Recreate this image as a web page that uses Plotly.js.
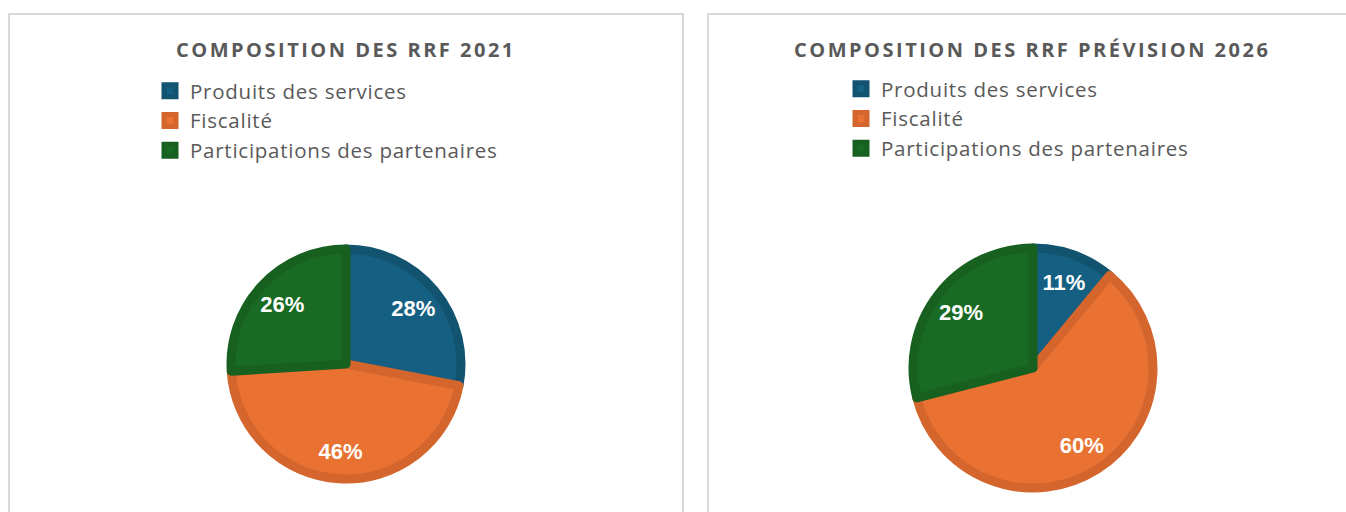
<!DOCTYPE html>
<html>
<head>
<meta charset="utf-8">
<script src="https://cdn.plot.ly/plotly-3.0.1.min.js"></script>
<style>
html,body{margin:0;padding:0;background:#fff;}
#wrap{position:relative;width:1346px;height:512px;overflow:hidden;}
#left{position:absolute;left:0;top:0;width:696px;height:512px;}
#right{position:absolute;left:696px;top:0;width:650px;height:512px;}
.annotation-text{letter-spacing:2.5px;}
.legendtext{letter-spacing:0.75px;}
</style>
</head>
<body>
<div id="wrap"><div id="left"></div><div id="right"></div></div>
<script>
const categories = ["Produits des services", "Fiscalité", "Participations des partenaires"];
const values2021 = [28, 46, 26];
const values2026 = [11, 60, 29];
const titles = ["COMPOSITION DES RRF 2021", "COMPOSITION DES RRF PRÉVISION 2026"];
const fillColors = ["#156082", "#E97132", "#196B24"];
const edgeColors = ["#12536F", "#D4652C", "#17601F"];

const H = 512;
const legendFont = {family: "Open Sans, sans-serif", size: 20.5, color: "#595959"};
const titleFont = {family: "Open Sans, Liberation Sans, sans-serif", size: 20, color: "#595959", weight: "bold"};

function makeChart(id, W, vals, title, cx, cy, r, titleX, legendTextX, legendTop, box) {
  const domain = {x: [(cx - r) / W, (cx + r) / W], y: [(H - cy - r) / H, (H - cy + r) / H]};
  const slices = {
    type: "pie", labels: categories, values: vals, sort: false, direction: "clockwise", rotation: 0,
    domain: domain,
    marker: {colors: fillColors, line: {color: edgeColors, width: 9}},
    textinfo: "none", hoverinfo: "label+percent"
  };
  const labelsRing = {
    type: "pie", labels: categories, values: vals, sort: false, direction: "clockwise", rotation: 0,
    domain: domain, hole: 0.52, showlegend: false,
    marker: {colors: ["rgba(0,0,0,0)", "rgba(0,0,0,0)", "rgba(0,0,0,0)"], line: {width: 0}},
    textinfo: "percent", texttemplate: "%{percent:.0%}", textposition: "inside",
    insidetextorientation: "horizontal",
    insidetextfont: {family: "Liberation Sans, Arial, sans-serif", size: 22, color: "#ffffff", weight: "bold"},
    hoverinfo: "skip"
  };
  const layout = {
    width: W, height: H,
    margin: {l: 0, r: 0, t: 0, b: 0},
    paper_bgcolor: "#ffffff",
    showlegend: true,
    legend: {x: (legendTextX - 40) / W, y: 1 - legendTop / H, xanchor: "left", yanchor: "top", font: legendFont, bgcolor: "rgba(0,0,0,0)", traceorder: "normal"},
    annotations: [
      {text: title, xref: "paper", yref: "paper", x: titleX / W, y: 1 - 49 / H, xanchor: "center", yanchor: "middle", showarrow: false, font: titleFont}
    ],
    shapes: [
      {type: "rect", xref: "paper", yref: "paper", x0: box[0] / W, x1: box[1] / W, y0: -0.05, y1: 1 - 14 / H, line: {color: "#D9D9D9", width: 2}, fillcolor: "rgba(0,0,0,0)", layer: "below"}
    ]
  };
  Plotly.newPlot(id, [slices, labelsRing], layout, {displayModeBar: false, staticPlot: true});
}

makeChart("left", 696, values2021, titles[0], 346, 364, 115, 345.5, 190, 71, [9, 683]);
makeChart("right", 650, values2026, titles[1], 1033 - 696, 368, 120, 1032 - 696, 881 - 696, 69, [708 - 696, 700]);
</script>
</body>
</html>
